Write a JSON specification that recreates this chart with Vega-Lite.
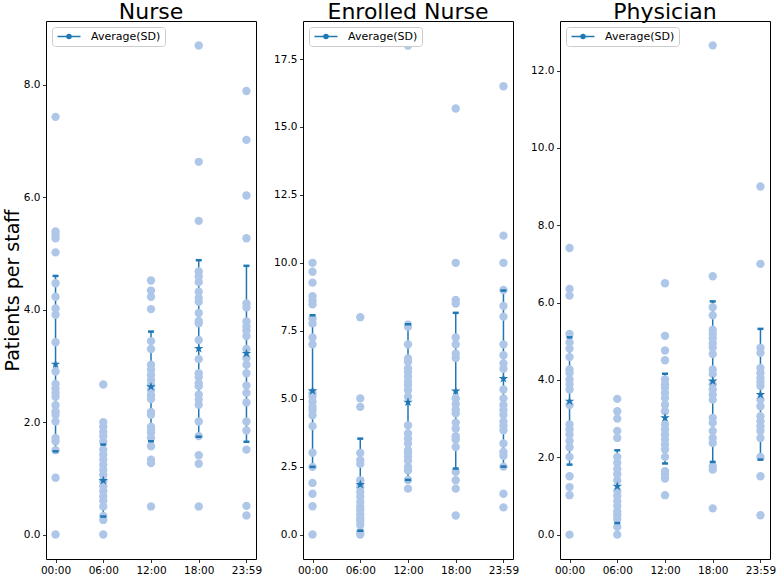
{
"$schema": "https://vega.github.io/schema/vega-lite/v6.json",
"background": "white",
"padding": {"left": 2, "top": 0, "right": 2, "bottom": 0},
"config": {
  "font": "DejaVu Sans",
  "view": {"stroke": "black", "strokeWidth": 1},
  "axis": {"domain": false, "grid": false, "tickColor": "black", "tickSize": 3.5, "tickWidth": 0.8, "labelFontSize": 10.5, "labelColor": "black", "labelPadding": 2.5, "titleFontSize": 19, "titleFontWeight": "normal", "titleColor": "black", "titlePadding": 1},
  "title": {"fontSize": 22, "fontWeight": "normal", "color": "black", "offset": -3}
},
"datasets": {
"n": [
{"t":"00:00","v":7.43},{"t":"00:00","v":5.39},{"t":"00:00","v":5.33},{"t":"00:00","v":5.27},{"t":"00:00","v":5.02},{"t":"00:00","v":4.47},{"t":"00:00","v":4.23},{"t":"00:00","v":4.02},{"t":"00:00","v":3.91},{"t":"00:00","v":3.42},{"t":"00:00","v":2.9},{"t":"00:00","v":2.68},{"t":"00:00","v":2.6},{"t":"00:00","v":2.52},{"t":"00:00","v":2.45},{"t":"00:00","v":2.3},{"t":"00:00","v":2.19},{"t":"00:00","v":2.13},{"t":"00:00","v":2.01},{"t":"00:00","v":1.72},{"t":"00:00","v":1.66},{"t":"00:00","v":1.5},{"t":"00:00","v":1.01},{"t":"00:00","v":0},
{"t":"06:00","v":2.67},{"t":"06:00","v":2.0},{"t":"06:00","v":1.92},{"t":"06:00","v":1.83},{"t":"06:00","v":1.75},{"t":"06:00","v":1.65},{"t":"06:00","v":1.51},{"t":"06:00","v":1.42},{"t":"06:00","v":1.33},{"t":"06:00","v":1.24},{"t":"06:00","v":1.15},{"t":"06:00","v":1.06},{"t":"06:00","v":0.95},{"t":"06:00","v":0.86},{"t":"06:00","v":0.77},{"t":"06:00","v":0.68},{"t":"06:00","v":0.6},{"t":"06:00","v":0.5},{"t":"06:00","v":0.33},{"t":"06:00","v":0.26},{"t":"06:00","v":0},
{"t":"12:00","v":4.52},{"t":"12:00","v":4.34},{"t":"12:00","v":4.23},{"t":"12:00","v":4.01},{"t":"12:00","v":3.44},{"t":"12:00","v":3.3},{"t":"12:00","v":3.02},{"t":"12:00","v":2.93},{"t":"12:00","v":2.84},{"t":"12:00","v":2.75},{"t":"12:00","v":2.66},{"t":"12:00","v":2.57},{"t":"12:00","v":2.48},{"t":"12:00","v":2.41},{"t":"12:00","v":2.18},{"t":"12:00","v":2.13},{"t":"12:00","v":1.92},{"t":"12:00","v":1.86},{"t":"12:00","v":1.81},{"t":"12:00","v":1.72},{"t":"12:00","v":1.57},{"t":"12:00","v":1.33},{"t":"12:00","v":1.27},{"t":"12:00","v":0.5},
{"t":"18:00","v":8.7},{"t":"18:00","v":6.63},{"t":"18:00","v":5.58},{"t":"18:00","v":4.68},{"t":"18:00","v":4.59},{"t":"18:00","v":4.49},{"t":"18:00","v":4.32},{"t":"18:00","v":4.21},{"t":"18:00","v":4.14},{"t":"18:00","v":3.94},{"t":"18:00","v":3.8},{"t":"18:00","v":3.76},{"t":"18:00","v":3.46},{"t":"18:00","v":3.12},{"t":"18:00","v":2.87},{"t":"18:00","v":2.8},{"t":"18:00","v":2.69},{"t":"18:00","v":2.64},{"t":"18:00","v":2.49},{"t":"18:00","v":2.4},{"t":"18:00","v":2.31},{"t":"18:00","v":2.01},{"t":"18:00","v":1.75},{"t":"18:00","v":1.41},{"t":"18:00","v":1.26},{"t":"18:00","v":0.5},
{"t":"23:59","v":7.89},{"t":"23:59","v":7.02},{"t":"23:59","v":6.03},{"t":"23:59","v":5.27},{"t":"23:59","v":4.11},{"t":"23:59","v":4.04},{"t":"23:59","v":3.79},{"t":"23:59","v":3.7},{"t":"23:59","v":3.63},{"t":"23:59","v":3.53},{"t":"23:59","v":3.3},{"t":"23:59","v":3.14},{"t":"23:59","v":3.02},{"t":"23:59","v":2.87},{"t":"23:59","v":2.65},{"t":"23:59","v":2.52},{"t":"23:59","v":2.35},{"t":"23:59","v":2.01},{"t":"23:59","v":1.85},{"t":"23:59","v":1.51},{"t":"23:59","v":0.51},{"t":"23:59","v":0.34}
],
"ns": [
{"t":"00:00","mean":3.03,"lo":1.48,"hi":4.6,"s":"Average(SD)"},
{"t":"06:00","mean":0.96,"lo":0.32,"hi":1.6,"s":"Average(SD)"},
{"t":"12:00","mean":2.63,"lo":1.66,"hi":3.61,"s":"Average(SD)"},
{"t":"18:00","mean":3.31,"lo":1.74,"hi":4.88,"s":"Average(SD)"},
{"t":"23:59","mean":3.22,"lo":1.65,"hi":4.78,"s":"Average(SD)"}
],
"e": [
{"t":"00:00","v":10.0},{"t":"00:00","v":9.67},{"t":"00:00","v":9.27},{"t":"00:00","v":8.77},{"t":"00:00","v":8.6},{"t":"00:00","v":8.47},{"t":"00:00","v":7.95},{"t":"00:00","v":7.77},{"t":"00:00","v":7.25},{"t":"00:00","v":7.0},{"t":"00:00","v":5.2},{"t":"00:00","v":5.07},{"t":"00:00","v":4.89},{"t":"00:00","v":4.7},{"t":"00:00","v":4.58},{"t":"00:00","v":4.39},{"t":"00:00","v":3.99},{"t":"00:00","v":3.01},{"t":"00:00","v":2.49},{"t":"00:00","v":1.9},{"t":"00:00","v":1.5},{"t":"00:00","v":1.04},{"t":"00:00","v":0},
{"t":"06:00","v":8.0},{"t":"06:00","v":5.01},{"t":"06:00","v":4.7},{"t":"06:00","v":3.0},{"t":"06:00","v":2.74},{"t":"06:00","v":2.6},{"t":"06:00","v":2.0},{"t":"06:00","v":1.75},{"t":"06:00","v":1.57},{"t":"06:00","v":1.39},{"t":"06:00","v":1.2},{"t":"06:00","v":1.02},{"t":"06:00","v":0.9},{"t":"06:00","v":0.75},{"t":"06:00","v":0.6},{"t":"06:00","v":0.5},{"t":"06:00","v":0.35},{"t":"06:00","v":0.1},{"t":"06:00","v":0},
{"t":"12:00","v":18.0},{"t":"12:00","v":7.72},{"t":"12:00","v":7.65},{"t":"12:00","v":7.0},{"t":"12:00","v":6.48},{"t":"12:00","v":6.36},{"t":"12:00","v":6.11},{"t":"12:00","v":5.99},{"t":"12:00","v":5.81},{"t":"12:00","v":5.62},{"t":"12:00","v":5.5},{"t":"12:00","v":5.31},{"t":"12:00","v":5.07},{"t":"12:00","v":4.02},{"t":"12:00","v":3.72},{"t":"12:00","v":3.53},{"t":"12:00","v":3.35},{"t":"12:00","v":3.1},{"t":"12:00","v":3.0},{"t":"12:00","v":2.87},{"t":"12:00","v":2.72},{"t":"12:00","v":2.49},{"t":"12:00","v":2.36},{"t":"12:00","v":2.01},{"t":"12:00","v":1.69},
{"t":"18:00","v":15.68},{"t":"18:00","v":10.0},{"t":"18:00","v":8.63},{"t":"18:00","v":8.5},{"t":"18:00","v":7.25},{"t":"18:00","v":7.0},{"t":"18:00","v":6.66},{"t":"18:00","v":6.5},{"t":"18:00","v":5.01},{"t":"18:00","v":4.8},{"t":"18:00","v":4.6},{"t":"18:00","v":4.46},{"t":"18:00","v":4.12},{"t":"18:00","v":3.9},{"t":"18:00","v":3.62},{"t":"18:00","v":3.5},{"t":"18:00","v":3.22},{"t":"18:00","v":2.31},{"t":"18:00","v":2.0},{"t":"18:00","v":1.69},{"t":"18:00","v":0.7},
{"t":"23:59","v":16.5},{"t":"23:59","v":11.0},{"t":"23:59","v":10.0},{"t":"23:59","v":9.0},{"t":"23:59","v":8.41},{"t":"23:59","v":8.02},{"t":"23:59","v":7.0},{"t":"23:59","v":6.6},{"t":"23:59","v":6.3},{"t":"23:59","v":6.1},{"t":"23:59","v":5.34},{"t":"23:59","v":5.01},{"t":"23:59","v":4.77},{"t":"23:59","v":4.58},{"t":"23:59","v":4.4},{"t":"23:59","v":4.15},{"t":"23:59","v":4.0},{"t":"23:59","v":3.84},{"t":"23:59","v":3.35},{"t":"23:59","v":3.04},{"t":"23:59","v":2.9},{"t":"23:59","v":2.5},{"t":"23:59","v":1.5},{"t":"23:59","v":1.0}
],
"es": [
{"t":"00:00","mean":5.29,"lo":2.49,"hi":8.07,"s":"Average(SD)"},
{"t":"06:00","mean":1.84,"lo":0.14,"hi":3.53,"s":"Average(SD)"},
{"t":"12:00","mean":4.87,"lo":2.01,"hi":7.74,"s":"Average(SD)"},
{"t":"18:00","mean":5.28,"lo":2.43,"hi":8.16,"s":"Average(SD)"},
{"t":"23:59","mean":5.74,"lo":2.5,"hi":8.98,"s":"Average(SD)"}
],
"p": [
{"t":"00:00","v":7.41},{"t":"00:00","v":6.35},{"t":"00:00","v":6.18},{"t":"00:00","v":5.19},{"t":"00:00","v":4.97},{"t":"00:00","v":4.81},{"t":"00:00","v":4.59},{"t":"00:00","v":4.27},{"t":"00:00","v":4.18},{"t":"00:00","v":4.01},{"t":"00:00","v":3.88},{"t":"00:00","v":3.75},{"t":"00:00","v":3.35},{"t":"00:00","v":2.85},{"t":"00:00","v":2.72},{"t":"00:00","v":2.59},{"t":"00:00","v":2.42},{"t":"00:00","v":2.26},{"t":"00:00","v":2.01},{"t":"00:00","v":1.51},{"t":"00:00","v":1.23},{"t":"00:00","v":1.02},{"t":"00:00","v":0},
{"t":"06:00","v":3.51},{"t":"06:00","v":3.19},{"t":"06:00","v":3.0},{"t":"06:00","v":2.68},{"t":"06:00","v":2.5},{"t":"06:00","v":2.01},{"t":"06:00","v":1.86},{"t":"06:00","v":1.7},{"t":"06:00","v":1.56},{"t":"06:00","v":1.4},{"t":"06:00","v":1.13},{"t":"06:00","v":1.0},{"t":"06:00","v":0.87},{"t":"06:00","v":0.74},{"t":"06:00","v":0.6},{"t":"06:00","v":0.5},{"t":"06:00","v":0.4},{"t":"06:00","v":0.2},{"t":"06:00","v":0},
{"t":"12:00","v":6.5},{"t":"12:00","v":5.14},{"t":"12:00","v":4.76},{"t":"12:00","v":4.51},{"t":"12:00","v":4.01},{"t":"12:00","v":3.88},{"t":"12:00","v":3.8},{"t":"12:00","v":3.66},{"t":"12:00","v":3.53},{"t":"12:00","v":3.36},{"t":"12:00","v":3.19},{"t":"12:00","v":2.85},{"t":"12:00","v":2.72},{"t":"12:00","v":2.59},{"t":"12:00","v":2.46},{"t":"12:00","v":2.33},{"t":"12:00","v":2.2},{"t":"12:00","v":2.01},{"t":"12:00","v":1.64},{"t":"12:00","v":1.56},{"t":"12:00","v":1.45},{"t":"12:00","v":1.02},
{"t":"18:00","v":12.65},{"t":"18:00","v":6.68},{"t":"18:00","v":5.88},{"t":"18:00","v":5.67},{"t":"18:00","v":5.3},{"t":"18:00","v":5.19},{"t":"18:00","v":5.08},{"t":"18:00","v":4.95},{"t":"18:00","v":4.84},{"t":"18:00","v":4.67},{"t":"18:00","v":4.27},{"t":"18:00","v":4.15},{"t":"18:00","v":3.88},{"t":"18:00","v":3.75},{"t":"18:00","v":3.62},{"t":"18:00","v":3.49},{"t":"18:00","v":3.02},{"t":"18:00","v":2.89},{"t":"18:00","v":2.68},{"t":"18:00","v":2.5},{"t":"18:00","v":2.37},{"t":"18:00","v":1.77},{"t":"18:00","v":1.68},{"t":"18:00","v":0.68},
{"t":"23:59","v":9.0},{"t":"23:59","v":7.0},{"t":"23:59","v":4.83},{"t":"23:59","v":4.7},{"t":"23:59","v":4.31},{"t":"23:59","v":4.18},{"t":"23:59","v":4.05},{"t":"23:59","v":3.95},{"t":"23:59","v":3.84},{"t":"23:59","v":3.49},{"t":"23:59","v":3.32},{"t":"23:59","v":3.06},{"t":"23:59","v":2.93},{"t":"23:59","v":2.8},{"t":"23:59","v":2.68},{"t":"23:59","v":2.5},{"t":"23:59","v":2.01},{"t":"23:59","v":1.51},{"t":"23:59","v":0.5}
],
"ps": [
{"t":"00:00","mean":3.45,"lo":1.81,"hi":5.1,"s":"Average(SD)"},
{"t":"06:00","mean":1.25,"lo":0.3,"hi":2.18,"s":"Average(SD)"},
{"t":"12:00","mean":3.02,"lo":1.84,"hi":4.16,"s":"Average(SD)"},
{"t":"18:00","mean":3.97,"lo":1.88,"hi":6.03,"s":"Average(SD)"},
{"t":"23:59","mean":3.62,"lo":1.94,"hi":5.32,"s":"Average(SD)"}
]
},
"spacing": 47,
"bounds": "flush",
"resolve": {"scale": {"y": "independent", "color": "independent"}, "legend": {"color": "independent"}},
"hconcat": [
{
"title": "Nurse", "width": 210, "height": 538,
"layer": [
{"data": {"name": "ns"}, "mark": {"type": "rule", "strokeWidth": 1.5},
 "encoding": {
  "x": {"field": "t", "type": "ordinal", "title": null, "scale": {"type": "point", "padding": 0.2, "domain": ["00:00","06:00","12:00","18:00","23:59"]}, "axis": {"labelAngle": 0}},
  "y": {"field": "lo", "type": "quantitative", "title": "Patients per staff", "scale": {"domain": [-0.435, 9.135], "nice": false, "zero": false}, "axis": {"values": [0,2,4,6,8], "format": ".1f"}},
  "y2": {"field": "hi"},
  "color": {"field": "s", "type": "nominal", "scale": {"domain": ["Average(SD)"], "range": ["#1f77b4"]},
   "legend": {"title": null, "orient": "top-left", "offset": 6, "symbolType": "M-1,0L4.75,0M1.375,0A0.5,0.5,0,1,0,2.375,0A0.5,0.5,0,1,0,1.375,0Z", "symbolSize": 64, "symbolStrokeWidth": 1.5, "symbolFillColor": "#1f77b4", "symbolStrokeColor": "#1f77b4", "labelFontSize": 11, "labelColor": "black", "labelOffset": 24, "padding": 4, "strokeColor": "#cccccc", "fillColor": "white", "cornerRadius": 3}}
 }},
{"data": {"name": "n"}, "mark": {"type": "circle", "size": 70, "color": "#aec7e8", "opacity": 1},
 "encoding": {
  "x": {"field": "t", "type": "ordinal", "title": null, "scale": {"type": "point", "padding": 0.2, "domain": ["00:00","06:00","12:00","18:00","23:59"]}, "axis": {"labelAngle": 0}},
  "y": {"field": "v", "type": "quantitative", "title": "Patients per staff", "scale": {"domain": [-0.435, 9.135], "nice": false, "zero": false}, "axis": {"values": [0,2,4,6,8], "format": ".1f"}}
 }},
{"data": {"name": "ns"}, "mark": {"type": "tick", "color": "#1f77b4", "thickness": 2.5, "size": 6, "opacity": 1},
 "encoding": {
  "x": {"field": "t", "type": "ordinal", "title": null, "scale": {"type": "point", "padding": 0.2, "domain": ["00:00","06:00","12:00","18:00","23:59"]}, "axis": {"labelAngle": 0}},
  "y": {"field": "lo", "type": "quantitative", "title": "Patients per staff", "scale": {"domain": [-0.435, 9.135], "nice": false, "zero": false}, "axis": {"values": [0,2,4,6,8], "format": ".1f"}}
 }},
{"data": {"name": "ns"}, "mark": {"type": "tick", "color": "#1f77b4", "thickness": 2.5, "size": 6, "opacity": 1},
 "encoding": {
  "x": {"field": "t", "type": "ordinal", "title": null, "scale": {"type": "point", "padding": 0.2, "domain": ["00:00","06:00","12:00","18:00","23:59"]}, "axis": {"labelAngle": 0}},
  "y": {"field": "hi", "type": "quantitative", "title": "Patients per staff", "scale": {"domain": [-0.435, 9.135], "nice": false, "zero": false}, "axis": {"values": [0,2,4,6,8], "format": ".1f"}}
 }},
{"data": {"name": "ns"}, "mark": {"type": "point", "shape": "M0,-1L0.2245,-0.309L0.951,-0.309L0.3633,0.118L0.588,0.809L0,0.382L-0.588,0.809L-0.3633,0.118L-0.951,-0.309L-0.2245,-0.309Z", "filled": true, "color": "#1f77b4", "size": 100, "opacity": 1},
 "encoding": {
  "x": {"field": "t", "type": "ordinal", "title": null, "scale": {"type": "point", "padding": 0.2, "domain": ["00:00","06:00","12:00","18:00","23:59"]}, "axis": {"labelAngle": 0}},
  "y": {"field": "mean", "type": "quantitative", "title": "Patients per staff", "scale": {"domain": [-0.435, 9.135], "nice": false, "zero": false}, "axis": {"values": [0,2,4,6,8], "format": ".1f"}}
 }}
]
},
{
"title": "Enrolled Nurse", "width": 210, "height": 538,
"layer": [
{"data": {"name": "es"}, "mark": {"type": "rule", "strokeWidth": 1.5},
 "encoding": {
  "x": {"field": "t", "type": "ordinal", "title": null, "scale": {"type": "point", "padding": 0.2, "domain": ["00:00","06:00","12:00","18:00","23:59"]}, "axis": {"labelAngle": 0}},
  "y": {"field": "lo", "type": "quantitative", "title": null, "scale": {"domain": [-0.9, 18.9], "nice": false, "zero": false}, "axis": {"values": [0,2.5,5,7.5,10,12.5,15,17.5], "format": ".1f"}},
  "y2": {"field": "hi"},
  "color": {"field": "s", "type": "nominal", "scale": {"domain": ["Average(SD)"], "range": ["#1f77b4"]},
   "legend": {"title": null, "orient": "top-left", "offset": 6, "symbolType": "M-1,0L4.75,0M1.375,0A0.5,0.5,0,1,0,2.375,0A0.5,0.5,0,1,0,1.375,0Z", "symbolSize": 64, "symbolStrokeWidth": 1.5, "symbolFillColor": "#1f77b4", "symbolStrokeColor": "#1f77b4", "labelFontSize": 11, "labelColor": "black", "labelOffset": 24, "padding": 4, "strokeColor": "#cccccc", "fillColor": "white", "cornerRadius": 3}}
 }},
{"data": {"name": "e"}, "mark": {"type": "circle", "size": 70, "color": "#aec7e8", "opacity": 1},
 "encoding": {
  "x": {"field": "t", "type": "ordinal", "title": null, "scale": {"type": "point", "padding": 0.2, "domain": ["00:00","06:00","12:00","18:00","23:59"]}, "axis": {"labelAngle": 0}},
  "y": {"field": "v", "type": "quantitative", "title": null, "scale": {"domain": [-0.9, 18.9], "nice": false, "zero": false}, "axis": {"values": [0,2.5,5,7.5,10,12.5,15,17.5], "format": ".1f"}}
 }},
{"data": {"name": "es"}, "mark": {"type": "tick", "color": "#1f77b4", "thickness": 2.5, "size": 6, "opacity": 1},
 "encoding": {
  "x": {"field": "t", "type": "ordinal", "title": null, "scale": {"type": "point", "padding": 0.2, "domain": ["00:00","06:00","12:00","18:00","23:59"]}, "axis": {"labelAngle": 0}},
  "y": {"field": "lo", "type": "quantitative", "title": null, "scale": {"domain": [-0.9, 18.9], "nice": false, "zero": false}, "axis": {"values": [0,2.5,5,7.5,10,12.5,15,17.5], "format": ".1f"}}
 }},
{"data": {"name": "es"}, "mark": {"type": "tick", "color": "#1f77b4", "thickness": 2.5, "size": 6, "opacity": 1},
 "encoding": {
  "x": {"field": "t", "type": "ordinal", "title": null, "scale": {"type": "point", "padding": 0.2, "domain": ["00:00","06:00","12:00","18:00","23:59"]}, "axis": {"labelAngle": 0}},
  "y": {"field": "hi", "type": "quantitative", "title": null, "scale": {"domain": [-0.9, 18.9], "nice": false, "zero": false}, "axis": {"values": [0,2.5,5,7.5,10,12.5,15,17.5], "format": ".1f"}}
 }},
{"data": {"name": "es"}, "mark": {"type": "point", "shape": "M0,-1L0.2245,-0.309L0.951,-0.309L0.3633,0.118L0.588,0.809L0,0.382L-0.588,0.809L-0.3633,0.118L-0.951,-0.309L-0.2245,-0.309Z", "filled": true, "color": "#1f77b4", "size": 100, "opacity": 1},
 "encoding": {
  "x": {"field": "t", "type": "ordinal", "title": null, "scale": {"type": "point", "padding": 0.2, "domain": ["00:00","06:00","12:00","18:00","23:59"]}, "axis": {"labelAngle": 0}},
  "y": {"field": "mean", "type": "quantitative", "title": null, "scale": {"domain": [-0.9, 18.9], "nice": false, "zero": false}, "axis": {"values": [0,2.5,5,7.5,10,12.5,15,17.5], "format": ".1f"}}
 }}
]
},
{
"title": "Physician", "width": 210, "height": 538,
"layer": [
{"data": {"name": "ps"}, "mark": {"type": "rule", "strokeWidth": 1.5},
 "encoding": {
  "x": {"field": "t", "type": "ordinal", "title": null, "scale": {"type": "point", "padding": 0.2, "domain": ["00:00","06:00","12:00","18:00","23:59"]}, "axis": {"labelAngle": 0}},
  "y": {"field": "lo", "type": "quantitative", "title": null, "scale": {"domain": [-0.63, 13.28], "nice": false, "zero": false}, "axis": {"values": [0,2,4,6,8,10,12], "format": ".1f"}},
  "y2": {"field": "hi"},
  "color": {"field": "s", "type": "nominal", "scale": {"domain": ["Average(SD)"], "range": ["#1f77b4"]},
   "legend": {"title": null, "orient": "top-left", "offset": 6, "symbolType": "M-1,0L4.75,0M1.375,0A0.5,0.5,0,1,0,2.375,0A0.5,0.5,0,1,0,1.375,0Z", "symbolSize": 64, "symbolStrokeWidth": 1.5, "symbolFillColor": "#1f77b4", "symbolStrokeColor": "#1f77b4", "labelFontSize": 11, "labelColor": "black", "labelOffset": 24, "padding": 4, "strokeColor": "#cccccc", "fillColor": "white", "cornerRadius": 3}}
 }},
{"data": {"name": "p"}, "mark": {"type": "circle", "size": 70, "color": "#aec7e8", "opacity": 1},
 "encoding": {
  "x": {"field": "t", "type": "ordinal", "title": null, "scale": {"type": "point", "padding": 0.2, "domain": ["00:00","06:00","12:00","18:00","23:59"]}, "axis": {"labelAngle": 0}},
  "y": {"field": "v", "type": "quantitative", "title": null, "scale": {"domain": [-0.63, 13.28], "nice": false, "zero": false}, "axis": {"values": [0,2,4,6,8,10,12], "format": ".1f"}}
 }},
{"data": {"name": "ps"}, "mark": {"type": "tick", "color": "#1f77b4", "thickness": 2.5, "size": 6, "opacity": 1},
 "encoding": {
  "x": {"field": "t", "type": "ordinal", "title": null, "scale": {"type": "point", "padding": 0.2, "domain": ["00:00","06:00","12:00","18:00","23:59"]}, "axis": {"labelAngle": 0}},
  "y": {"field": "lo", "type": "quantitative", "title": null, "scale": {"domain": [-0.63, 13.28], "nice": false, "zero": false}, "axis": {"values": [0,2,4,6,8,10,12], "format": ".1f"}}
 }},
{"data": {"name": "ps"}, "mark": {"type": "tick", "color": "#1f77b4", "thickness": 2.5, "size": 6, "opacity": 1},
 "encoding": {
  "x": {"field": "t", "type": "ordinal", "title": null, "scale": {"type": "point", "padding": 0.2, "domain": ["00:00","06:00","12:00","18:00","23:59"]}, "axis": {"labelAngle": 0}},
  "y": {"field": "hi", "type": "quantitative", "title": null, "scale": {"domain": [-0.63, 13.28], "nice": false, "zero": false}, "axis": {"values": [0,2,4,6,8,10,12], "format": ".1f"}}
 }},
{"data": {"name": "ps"}, "mark": {"type": "point", "shape": "M0,-1L0.2245,-0.309L0.951,-0.309L0.3633,0.118L0.588,0.809L0,0.382L-0.588,0.809L-0.3633,0.118L-0.951,-0.309L-0.2245,-0.309Z", "filled": true, "color": "#1f77b4", "size": 100, "opacity": 1},
 "encoding": {
  "x": {"field": "t", "type": "ordinal", "title": null, "scale": {"type": "point", "padding": 0.2, "domain": ["00:00","06:00","12:00","18:00","23:59"]}, "axis": {"labelAngle": 0}},
  "y": {"field": "mean", "type": "quantitative", "title": null, "scale": {"domain": [-0.63, 13.28], "nice": false, "zero": false}, "axis": {"values": [0,2,4,6,8,10,12], "format": ".1f"}}
 }}
]
}
]
}
